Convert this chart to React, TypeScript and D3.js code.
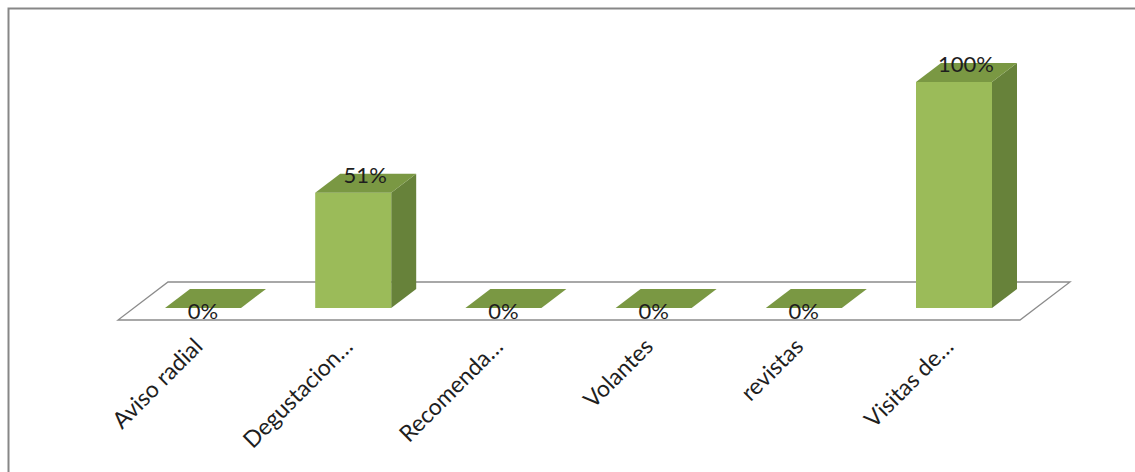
import React from "react";
import * as d3 from "d3";

const categories = ["Aviso radial", "Degustacion…", "Recomenda…", "Volantes", "revistas", "Visitas de…"];
const values = [0, 0.51, 0, 0, 0, 1];
const valueLabels = ["0%", "51%", "0%", "0%", "0%", "100%"];

const W = 1135;
const H = 472;

export default function App() {
  const x = d3.scalePoint<string>().domain(categories).range([203, 954]);
  const y = d3.scaleLinear().domain([0, 1]).range([308, 82]);
  const bw = 76;
  const dx = 25;
  const dy = -19;
  const base = y(0);

  const fx0 = 118, fx1 = 1020, fy = base + 12, fdx = 50, fdy = -38;
  const floor = [
    [fx0, fy], [fx1, fy], [fx1 + fdx, fy + fdy], [fx0 + fdx, fy + fdy],
  ].map((p) => p.join(",")).join(" ");

  const front = "#9bbb59";
  const top = "#7a9843";
  const side = "#67823a";
  const font = "Lato, 'Open Sans', sans-serif";

  return (
    <svg width={W} height={H} style={{ position: "absolute", left: 0, top: 0, display: "block", background: "#fff" }}>
      <rect x={8.5} y={8.5} width={1300} height={700} fill="#fff" stroke="#878787" strokeWidth={2} />
      <polygon points={floor} fill="#fff" stroke="#8c8c8c" strokeWidth={1.3} />
      {categories.map((c, i) => {
        const cx = x(c)!;
        const x0 = cx - bw / 2;
        const x1 = cx + bw / 2;
        const t = y(values[i]);
        const topPts = [[x0, t], [x0 + dx, t + dy], [x1 + dx, t + dy], [x1, t]].map((p) => p.join(",")).join(" ");
        const sidePts = [[x1, t], [x1 + dx, t + dy], [x1 + dx, base + dy], [x1, base]].map((p) => p.join(",")).join(" ");
        return (
          <g key={c}>
            {values[i] > 0 && <polygon points={sidePts} fill={side} />}
            {values[i] > 0 && <rect x={x0} y={t} width={bw} height={base - t} fill={front} />}
            <polygon points={topPts} fill={top} />
          </g>
        );
      })}
      {categories.map((c, i) => {
        const cx = x(c)!;
        const zero = values[i] === 0;
        const lx = zero ? cx : cx + 12;
        const ly = zero ? base + 11 : y(values[i]) - 10;
        return (
          <text key={"v" + c} x={lx} y={ly} textAnchor="middle" fontFamily={font} fontSize={22} fill="#1e1e1e">
            {valueLabels[i]}
          </text>
        );
      })}
      {categories.map((c) => {
        const cx = x(c)!;
        const ax = cx + 1;
        const ay = 348;
        return (
          <text key={"a" + c} x={ax} y={ay} transform={`rotate(-45 ${ax} ${ay})`} textAnchor="end" fontFamily={font} fontSize={23} fill="#1e1e1e">
            {c}
          </text>
        );
      })}
    </svg>
  );
}
